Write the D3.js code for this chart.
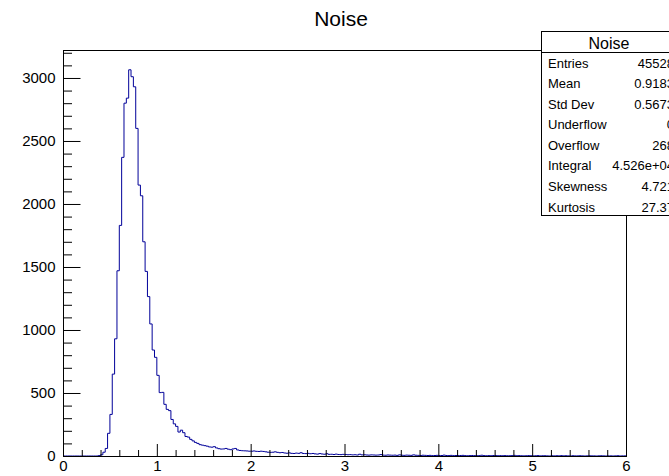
<!DOCTYPE html>
<html>
<head>
<meta charset="utf-8">
<script src="https://cdn.jsdelivr.net/npm/d3@7"></script>
<style>
  body { margin: 0; background: #fff; }
  svg { display: block; font-family: "Liberation Sans", Arial, Helvetica, sans-serif; }
</style>
</head>
<body>
<svg id="chart"></svg>
<script>
var width = 669, height = 476

// histogram "Noise": 240 bins from 0 to 6 (bin width 0.025)
var binLow = 0, binHigh = 6
var counts = [
    0, 0, 0, 0, 0, 0, 0, 0, 0, 0, 0, 0, 0, 0, 0, 3, 10, 30, 60, 180,
    330, 650, 930, 1470, 1830, 2370, 2800, 2840, 3065, 3010, 2930, 2600, 2150, 2065, 1700, 1465, 1265, 1048, 841, 783,
    640, 503, 505, 410, 370, 360, 290, 255, 235, 190, 205, 185, 155, 150, 132, 120, 108, 100, 90, 86,
    82, 78, 72, 70, 74, 64, 58, 55, 56, 60, 54, 50, 56, 60, 48, 44, 42, 41, 40, 38,
    38, 40, 37, 36, 38, 36, 33, 30, 29, 30, 33, 29, 26, 28, 24, 22, 25, 21, 20, 23,
    21, 26, 20, 19, 21, 18, 20, 17, 15, 19, 16, 14, 18, 13, 14, 12, 15, 12, 11, 13,
    12, 10, 11, 9, 10, 8, 14, 9, 10, 8, 7, 9, 8, 7, 8, 11, 7, 6, 8, 7,
    6, 7, 5, 9, 6, 5, 7, 6, 5, 9, 6, 5, 4, 6, 5, 4, 5, 3, 4, 5,
    4, 4, 7, 4, 3, 5, 3, 4, 3, 4, 5, 3, 2, 3, 4, 3, 2, 3, 6, 3,
    2, 3, 2, 4, 3, 2, 3, 2, 3, 2, 2, 3, 5, 2, 3, 2, 1, 2, 3, 2,
    1, 2, 3, 1, 2, 2, 1, 0, 2, 1, 2, 1, 3, 1, 2, 1, 0, 2, 1, 1,
    2, 1, 0, 1, 2, 1, 1, 0, 1, 2, 1, 0, 1, 1, 0, 1, 2, 0, 1, 1
]

var xMajor = [0, 1, 2, 3, 4, 5, 6]
var yMajor = [0, 500, 1000, 1500, 2000, 2500, 3000]
var yMax = 3222

var statLabels = ["Entries", "Mean", "Std Dev", "Underflow", "Overflow", "Integral", "Skewness", "Kurtosis"]
var statValues = ["45528", "0.9183", "0.5673", "0", "268", "4.526e+04", "4.721", "27.37"]

var svg = d3.select("#chart")
    .attr("width", width)
    .attr("height", height)

var x = d3.scaleLinear().domain([binLow, binHigh]).range([63, 626])
var y = d3.scaleLinear().domain([0, yMax]).range([456, 50])

var binW = (binHigh - binLow) / counts.length

// title
svg.append("text")
    .attr("x", 341)
    .attr("y", 26)
    .attr("text-anchor", "middle")
    .style("font-size", "21px")
    .text("Noise")

// histogram outline
var pts = counts.map((c, i) => [binLow + i * binW, c])
pts.push([binHigh, counts[counts.length - 1]])
var line = d3.line()
    .x(d => x(d[0]))
    .y(d => y(d[1]))
    .curve(d3.curveStepAfter)

svg.append("path")
    .datum(pts)
    .attr("d", line)
    .attr("fill", "none")
    .attr("stroke", "#000099")
    .attr("stroke-width", 1)

// frame
svg.append("rect")
    .attr("x", 63.5)
    .attr("y", 50.5)
    .attr("width", 563)
    .attr("height", 406)
    .attr("fill", "none")
    .attr("stroke", "#000")

// x axis: minor ticks every 0.2, majors with labels
var xMinor = d3.range(0, 30.5).map(i => i * 0.2).filter(v => Math.abs(v - Math.round(v)) > 1e-6)
svg.append("g")
    .attr("transform", "translate(0,456.5)")
    .call(d3.axisBottom(x).tickValues(xMinor).tickSize(-6.5).tickFormat(""))
    .call(g => g.select(".domain").remove())
svg.append("g")
    .attr("transform", "translate(0,456.5)")
    .call(d3.axisBottom(x).tickValues(xMajor).tickSize(-12.5).tickPadding(4).tickFormat(d3.format("d")))
    .call(g => g.select(".domain").remove())
    .call(g => g.selectAll("text").style("font-size", "15px").attr("font-family", null).attr("fill", "#000"))

// y axis: minor ticks every 100
var yMinor = d3.range(0, 33).map(i => i * 100).filter(v => v % 500 != 0)
svg.append("g")
    .attr("transform", "translate(63.5,0)")
    .call(d3.axisLeft(y).tickValues(yMinor).tickSize(-8.5).tickFormat(""))
    .call(g => g.select(".domain").remove())
svg.append("g")
    .attr("transform", "translate(63.5,0)")
    .call(d3.axisLeft(y).tickValues(yMajor).tickSize(-17).tickPadding(8).tickFormat(d3.format("d")))
    .call(g => g.select(".domain").remove())
    .call(g => g.selectAll("text").style("font-size", "15px").attr("font-family", null).attr("fill", "#000"))

svg.selectAll(".tick line").attr("stroke", "#000")

// stats box
var box = svg.append("g")
box.append("rect")
    .attr("x", 541.5)
    .attr("y", 31.5)
    .attr("width", 140)
    .attr("height", 184)
    .attr("fill", "#fff")
    .attr("stroke", "#000")
box.append("line")
    .attr("x1", 541.5).attr("x2", 682)
    .attr("y1", 52.5).attr("y2", 52.5)
    .attr("stroke", "#000")
box.append("text")
    .attr("x", 609)
    .attr("y", 48.5)
    .attr("text-anchor", "middle")
    .style("font-size", "16px")
    .text("Noise")

var row = d3.scaleLinear().domain([0, 7]).range([63, 207])
box.selectAll("text.lab")
    .data(statLabels)
    .enter().append("text")
    .attr("class", "lab")
    .attr("x", 548)
    .attr("y", (d, i) => row(i) + 4.5)
    .style("font-size", "13px")
    .text(d => d)
box.selectAll("text.val")
    .data(statValues)
    .enter().append("text")
    .attr("class", "val")
    .attr("x", 674)
    .attr("y", (d, i) => row(i) + 4.5)
    .attr("text-anchor", "end")
    .style("font-size", "13px")
    .text(d => d)
</script>
</body>
</html>
